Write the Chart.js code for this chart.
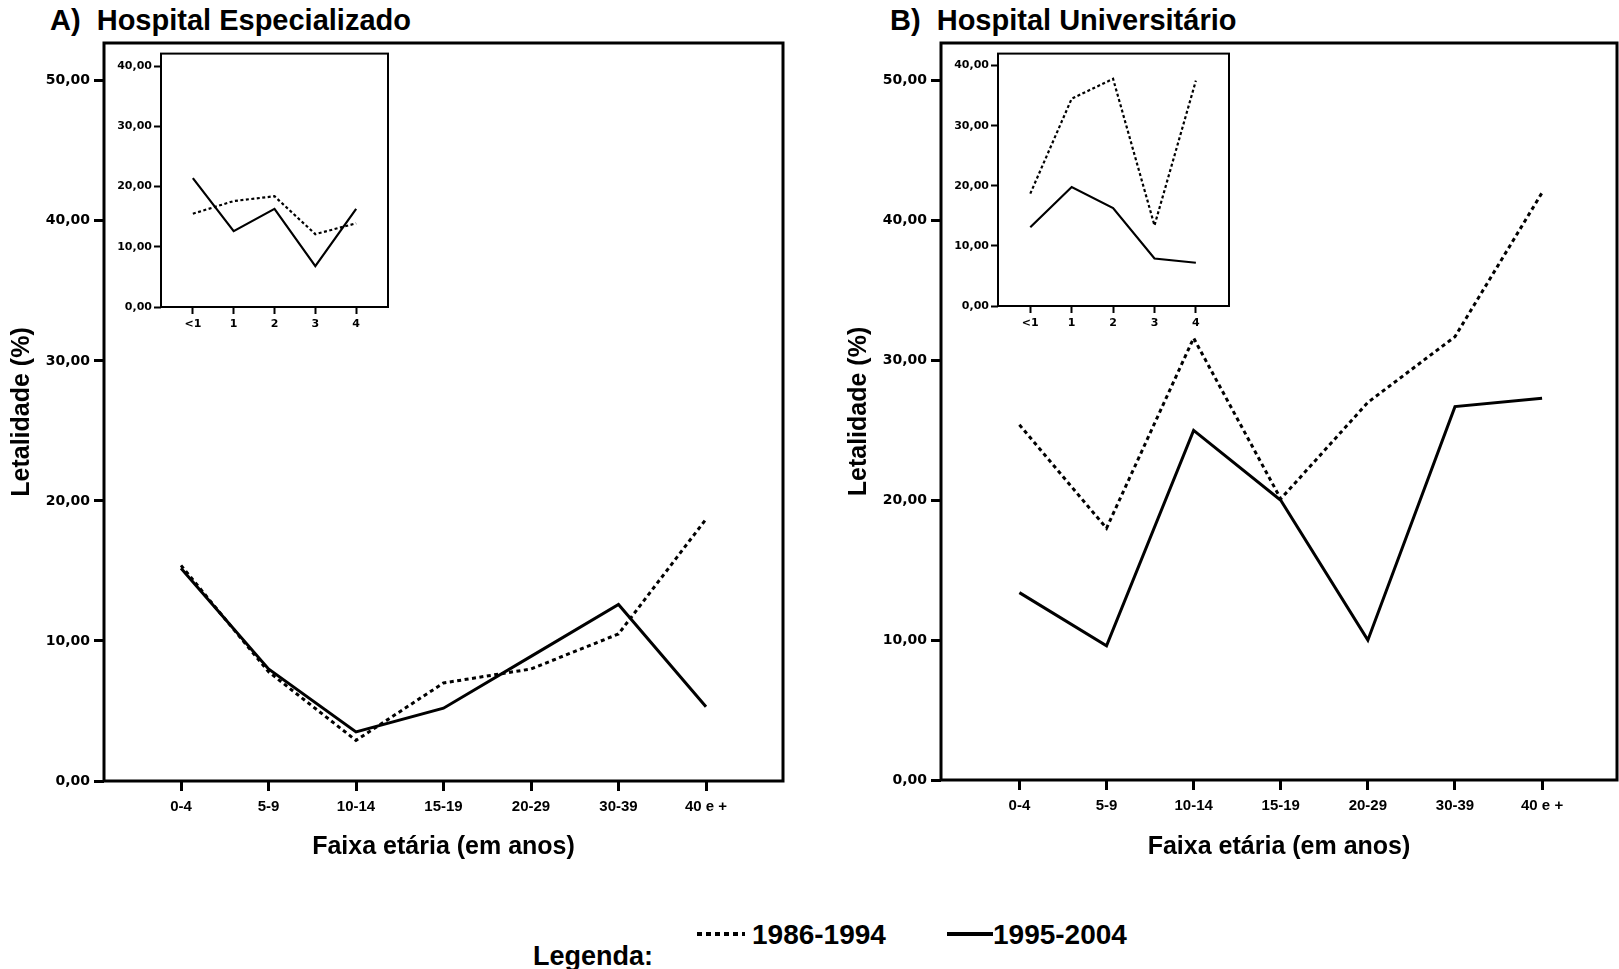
<!DOCTYPE html>
<html lang="pt">
<head>
<meta charset="utf-8">
<title>Letalidade por faixa etária</title>
<script src="https://cdn.jsdelivr.net/npm/chart.js"></script>
<style>
  body { margin: 0; background: #fff; }
  #pagina { position: relative; width: 1619px; height: 969px; overflow: hidden;
            font-family: 'Liberation Sans', Arial, sans-serif; font-weight: bold; color: #000; }
  canvas { position: absolute; }
  .txt { position: absolute; white-space: pre; line-height: 1; }
  .titulo { font-size: 29px; top: 6px; }
  .leg { font-size: 28px; }
  .amostra { position: absolute; height: 4px; }
</style>
</head>
<body>
<div id="pagina">
  <div class="txt titulo" style="left:50px">A)  Hospital Especializado</div>
  <div class="txt titulo" style="left:890px">B)  Hospital Universitário</div>

  <canvas id="graficoA" width="800" height="880" style="left:0;top:0"></canvas>
  <canvas id="graficoB" width="799" height="880" style="left:820px;top:0"></canvas>
  <canvas id="menorA" width="300" height="290" style="left:100px;top:45px"></canvas>
  <canvas id="menorB" width="300" height="290" style="left:940px;top:45px"></canvas>

  <div class="txt" style="left:533px;top:943px;font-size:27px">Legenda:</div>
  <div class="amostra" style="left:697px;top:932px;width:48px;background:repeating-linear-gradient(to right,#000 0 5px,transparent 5px 9px)"></div>
  <div class="txt leg" style="left:752px;top:921px">1986-1994</div>
  <div class="amostra" style="left:947px;top:932px;width:46px;background:#000"></div>
  <div class="txt leg" style="left:993px;top:921px">1995-2004</div>
</div>

<script>
// Eixos
const faixas = ['0-4', '5-9', '10-14', '15-19', '20-29', '30-39', '40 e +'];
const idades = ['<1', '1', '2', '3', '4'];
const ticksPrincipal = [0, 10, 20, 30, 40, 50];
const ticksMenor = [0, 10, 20, 30, 40];

// A) Hospital Especializado - letalidade (%)
const espFaixa8694 = [15.4, 7.8, 2.9, 7.0, 8.0, 10.5, 18.7];
const espFaixa9504 = [15.2, 8.0, 3.5, 5.2, 8.9, 12.6, 5.3];
const espIdade8694 = [15.5, 17.6, 18.4, 12.1, 13.9];
const espIdade9504 = [21.4, 12.6, 16.3, 6.8, 16.3];

// B) Hospital Universitário - letalidade (%)
const uniFaixa8694 = [25.4, 18.0, 31.6, 20.1, 27.0, 31.7, 42.0];
const uniFaixa9504 = [13.4, 9.6, 25.0, 20.0, 10.0, 26.7, 27.3];
const uniIdade8694 = [18.7, 34.5, 37.8, 13.4, 37.5];
const uniIdade9504 = [13.1, 19.8, 16.3, 7.9, 7.2];

// moldura em volta da área do gráfico (estilo SPSS)
const moldura = {
    id: 'moldura',
    afterDatasetsDraw(chart, args, opts) {
        const { ctx, chartArea: a } = chart;
        ctx.save();
        ctx.strokeStyle = '#000';
        ctx.lineWidth = opts.width;
        ctx.strokeRect(a.left, a.top, a.right - a.left, a.bottom - a.top);
        ctx.restore();
    }
};

const formatar = v => v.toFixed(2).replace('.', ',');

function criarGrafico(id, c) {
    const ctx = document.getElementById(id).getContext('2d');
    return new Chart(ctx, {
        type: 'line',
        data: {
            datasets: [
                {
                    label: '1986-1994',
                    data: c.serie1.map((y, i) => ({ x: i, y })),
                    borderColor: '#000',
                    borderWidth: c.linha,
                    borderDash: c.traco,
                    pointRadius: 0,
                    tension: 0
                },
                {
                    label: '1995-2004',
                    data: c.serie2.map((y, i) => ({ x: i, y })),
                    borderColor: '#000',
                    borderWidth: c.linha,
                    pointRadius: 0,
                    tension: 0
                }
            ]
        },
        options: {
            responsive: false,
            animation: false,
            events: [],
            layout: { padding: c.padding },
            plugins: {
                legend: { display: false },
                tooltip: { enabled: false },
                moldura: { width: c.moldura }
            },
            scales: {
                x: {
                    type: 'linear',
                    min: c.xMin,
                    max: c.xMax,
                    afterBuildTicks: s => { s.ticks = c.rotulos.map((_, i) => ({ value: i })); },
                    afterFit: s => { s.height = c.alturaX; },
                    ticks: {
                        callback: v => c.rotulos[v],
                        color: '#000',
                        font: c.fonteX,
                        padding: c.padX,
                        autoSkip: false,
                        maxRotation: 0
                    },
                    grid: { drawOnChartArea: false, tickLength: c.tickX, tickColor: '#000', tickWidth: c.moldura },
                    border: { display: false },
                    title: c.tituloX ? {
                        display: true,
                        text: c.tituloX,
                        color: '#000',
                        font: { family: 'Liberation Sans', size: 25, weight: 'bold' },
                        padding: { top: 0, bottom: 18 }
                    } : { display: false }
                },
                y: {
                    min: 0,
                    max: c.yMax,
                    afterBuildTicks: s => { s.ticks = c.ticksY.map(v => ({ value: v })); },
                    afterFit: s => { s.width = c.larguraY; },
                    ticks: {
                        callback: v => formatar(v),
                        color: '#000',
                        font: c.fonteY,
                        padding: c.padY
                    },
                    grid: { drawOnChartArea: false, tickLength: c.tickY, tickColor: '#000', tickWidth: c.moldura },
                    border: { display: false },
                    title: c.tituloY ? {
                        display: true,
                        text: c.tituloY,
                        color: '#000',
                        font: { family: 'Liberation Sans', size: 25, weight: 'bold' },
                        padding: { top: c.padTituloY, bottom: 0 }
                    } : { display: false }
                }
            }
        },
        plugins: [moldura]
    });
}

const fonteEixoX = { family: 'Liberation Sans', size: 15, weight: 'bold' };
const fonteEixoY = { family: 'DejaVu Sans', size: 14, weight: 'bold' };
const fonteMenor = { family: 'DejaVu Sans', size: 11, weight: 'bold' };

// Gráficos principais
criarGrafico('graficoA', {
    serie1: espFaixa8694, serie2: espFaixa9504, rotulos: faixas, ticksY: ticksPrincipal,
    linha: 3, traco: [4, 3.5], moldura: 3,
    xMin: -0.88, xMax: 6.88, yMax: 52.7,
    padding: { top: 43, right: 17, left: 0, bottom: 0 },
    larguraY: 104, alturaX: 99,
    fonteX: fonteEixoX, padX: 7, tickX: 10,
    fonteY: fonteEixoY, padY: 4, tickY: 10,
    tituloX: 'Faixa etária (em anos)', tituloY: 'Letalidade (%)', padTituloY: 7
});

criarGrafico('graficoB', {
    serie1: uniFaixa8694, serie2: uniFaixa9504, rotulos: faixas, ticksY: ticksPrincipal,
    linha: 3, traco: [4, 3.5], moldura: 3,
    xMin: -0.9, xMax: 6.86, yMax: 52.7,
    padding: { top: 43, right: 2, left: 0, bottom: 0 },
    larguraY: 121, alturaX: 100,
    fonteX: fonteEixoX, padX: 7, tickX: 10,
    fonteY: fonteEixoY, padY: 4, tickY: 10,
    tituloX: 'Faixa etária (em anos)', tituloY: 'Letalidade (%)', padTituloY: 24
});

// Gráficos menores (menores de 5 anos)
criarGrafico('menorA', {
    serie1: espIdade8694, serie2: espIdade9504, rotulos: idades, ticksY: ticksMenor,
    linha: 2.2, traco: [3, 2.5], moldura: 2,
    xMin: -0.78, xMax: 4.78, yMax: 42.1,
    padding: { top: 8, right: 12, left: 0, bottom: 0 },
    larguraY: 61, alturaX: 28,
    fonteX: fonteMenor, padX: 4, tickX: 7,
    fonteY: fonteMenor, padY: 2, tickY: 7
});

criarGrafico('menorB', {
    serie1: uniIdade8694, serie2: uniIdade9504, rotulos: idades, ticksY: ticksMenor,
    linha: 2.2, traco: [3, 2.5], moldura: 2,
    xMin: -0.78, xMax: 4.8, yMax: 42.0,
    padding: { top: 7, right: 11, left: 0, bottom: 0 },
    larguraY: 58, alturaX: 29,
    fonteX: fonteMenor, padX: 4, tickX: 7,
    fonteY: fonteMenor, padY: 2, tickY: 7
});
</script>
</body>
</html>
